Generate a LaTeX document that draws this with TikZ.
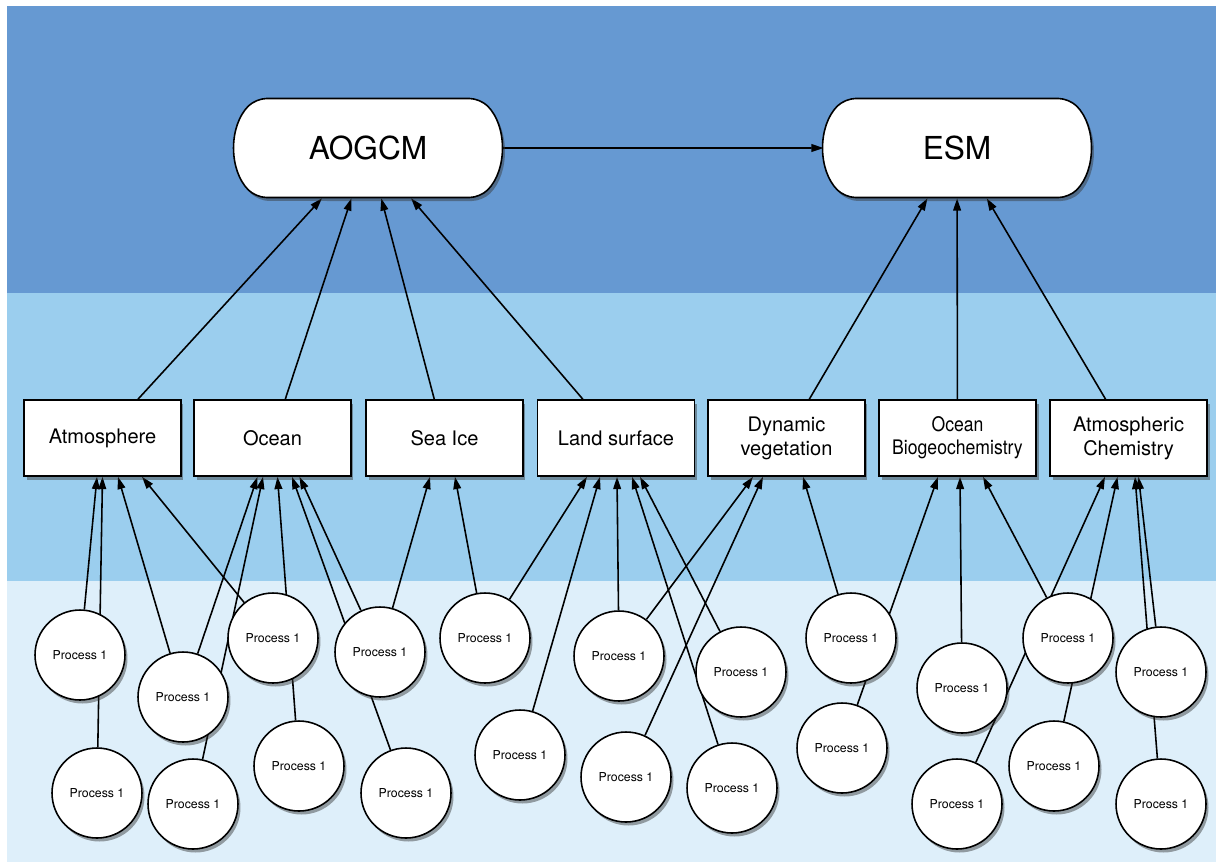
\documentclass[tikz,border=0pt]{standalone}
\usepackage{fontspec}
\setmainfont{TeX Gyre Heros}
\usepackage{tikz}
\usetikzlibrary{arrows.meta,positioning,calc,shapes.misc,shadows}
\definecolor{topband}{RGB}{102,153,210}
\definecolor{midband}{RGB}{155,206,238}
\definecolor{lowband}{RGB}{222,239,250}
\pgfdeclarelayer{bands}
\pgfdeclarelayer{links}
\pgfsetlayers{bands,links,main}

\begin{document}
\begin{tikzpicture}[x=0.02cm, y=-0.02cm,
    link/.style={-{Triangle[length=7pt,width=4.4pt]}, line width=0.9pt},
    sh/.style={drop shadow={shadow xshift=0.05cm, shadow yshift=-0.07cm, opacity=0.45, fill=black!80}},
    model/.style={rounded rectangle, rounded rectangle arc length=90, rounded corners=6pt, draw, line width=0.9pt,
              fill=white, minimum width=5.54cm, minimum height=1.98cm, font=\fontsize{18}{20}\selectfont, sh},
    comp/.style={rectangle, draw, line width=0.9pt, fill=white, minimum width=3.14cm, minimum height=1.52cm,
              align=center, font=\fontsize{11.4}{13.6}\selectfont, sh},
    proc/.style={circle, draw, line width=0.9pt, fill=white, minimum size=1.8cm, inner sep=0pt,
              font=\fontsize{7}{8}\selectfont, sh}]
\useasboundingbox (0,0) rectangle (1216,863);
\begin{pgfonlayer}{bands}
\fill[topband] (7,6) rectangle (1216,293);
\fill[midband] (7,293) rectangle (1216,581);
\fill[lowband] (7,581) rectangle (1216,862);
\end{pgfonlayer}
% models
\node[model] (aogcm) at (368,148) {AOGCM};
\node[model] (esm) at (957,148) {ESM};
% components
\foreach \n/\xpos/\txt in {atm/102.5/Atmosphere, ocn/272.5/Ocean, ice/444.5/Sea Ice, lnd/616/Land surface,
    veg/786.5/{Dynamic\\vegetation}, chm/1128.5/{Atmospheric\\Chemistry}} {
    \node[comp] (\n) at (\xpos,438) {\txt};
}
\node[comp, font=\fontsize{11.4}{13}\selectfont\addfontfeature{FakeStretch=0.88}] (bgc) at (957.5,438) {Ocean\\Biogeochemistry};
% processes
\foreach \i/\xpos/\ypos in {1/80/655, 2/183/697, 3/273/638, 4/380/652, 5/97/793, 6/193/804, 7/299/766, 8/406/793,
    9/485/638, 10/520/755, 11/619/656, 12/741/672, 13/626/777, 14/732/788, 15/851/638, 16/842/748,
    17/962/688, 18/1068/638, 19/1161/672, 20/957/804, 21/1054/766, 22/1161/804} {
    \node[proc] (p\i) at (\xpos,\ypos) {Process 1};
}
\begin{pgfonlayer}{links}
\draw[link] (aogcm) -- (esm);
\foreach \b/\m in {atm/aogcm, ocn/aogcm, ice/aogcm, lnd/aogcm, veg/esm, bgc/esm, chm/esm}
    \draw[link] (\b) -- (\m);
\foreach \i/\b/\dx in {1/atm/-5.5, 5/atm/0, 2/atm/15.5, 3/atm/39.5,
    2/ocn/-15, 6/ocn/-9.5, 7/ocn/5, 8/ocn/19.5, 4/ocn/27,
    4/ice/-14.5, 9/ice/10.5,
    9/lnd/-29, 10/lnd/-16, 11/lnd/1, 14/lnd/16, 12/lnd/24,
    11/veg/-33.5, 13/veg/-23.5, 15/veg/16.5,
    16/bgc/-19.5, 17/bgc/2.5, 18/bgc/25.5,
    20/chm/-23.5, 21/chm/-11, 22/chm/6.5, 19/chm/10}
    \draw[link] (p\i) -- ($(\b.south)+(\dx,0)$);
\end{pgfonlayer}
\end{tikzpicture}
\end{document}
